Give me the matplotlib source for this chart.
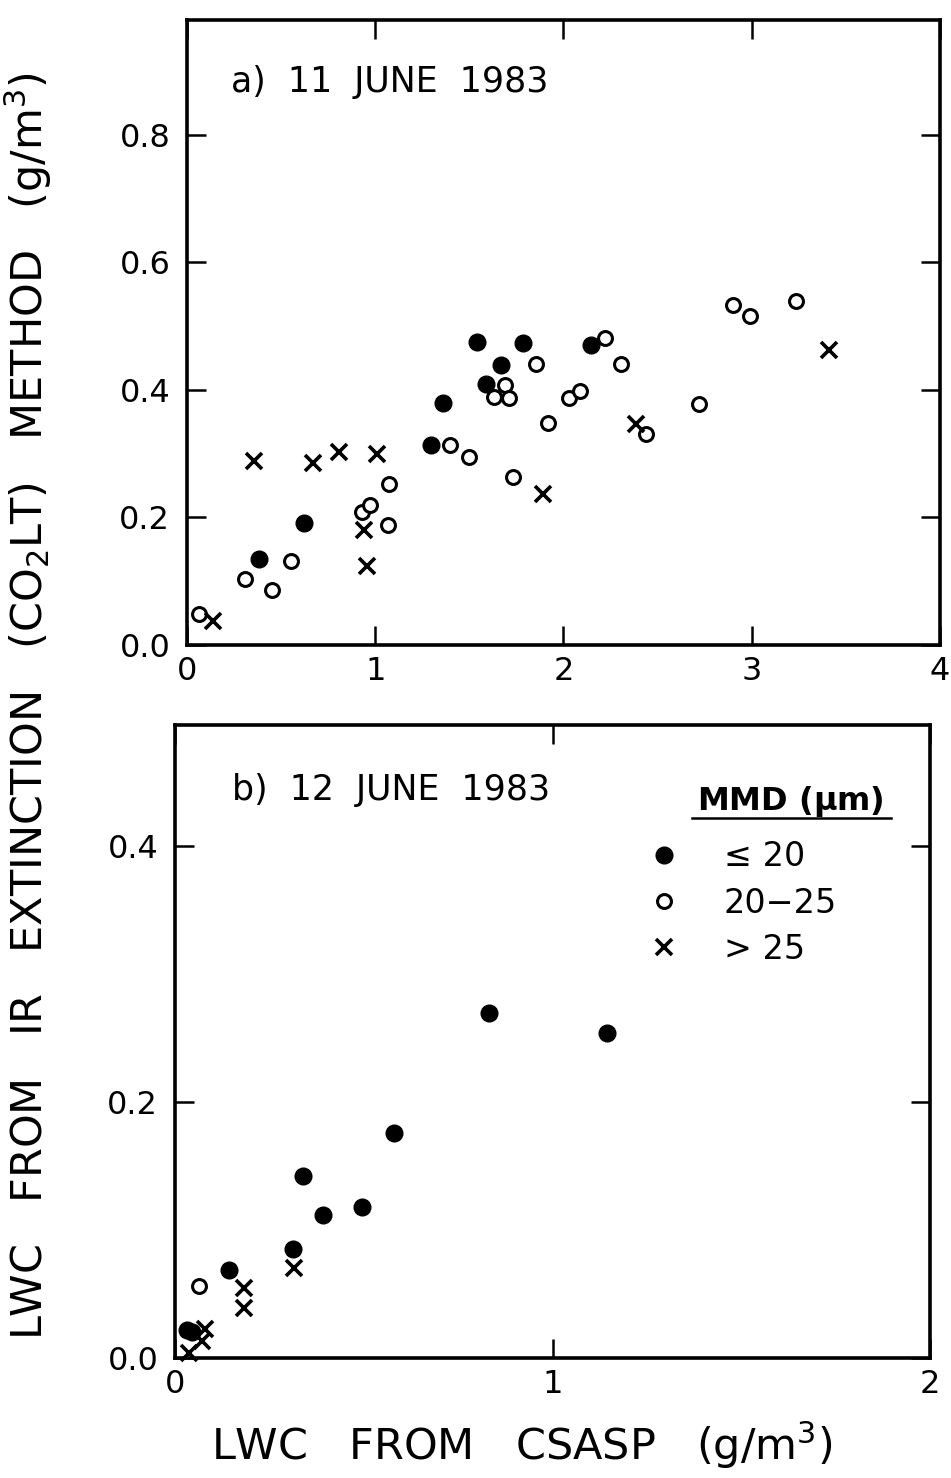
import matplotlib
matplotlib.use('Agg')
import matplotlib.pyplot as plt

plt.rcParams['font.family'] = 'DejaVu Sans'
plt.rcParams['mathtext.default'] = 'regular'

# a) 11 June 1983 : LWC from CSASP (x) vs LWC from CO2LT (y), by MMD class
a_small_x = [0.383, 0.624, 1.297, 1.36, 1.54, 1.589, 1.668, 1.786, 2.148]
a_small_y = [0.135, 0.192, 0.314, 0.379, 0.475, 0.409, 0.439, 0.473, 0.471]

a_mid_x = [0.063, 0.31, 0.451, 0.553, 0.932, 0.972, 1.072, 1.07, 1.399, 1.498,
           1.731, 1.688, 1.63, 1.71, 1.855, 1.92, 2.028, 2.09, 2.218, 2.306,
           2.437, 2.718, 2.90, 2.99, 3.235]
a_mid_y = [0.049, 0.104, 0.087, 0.132, 0.208, 0.219, 0.253, 0.188, 0.313, 0.294,
           0.263, 0.408, 0.389, 0.388, 0.44, 0.348, 0.387, 0.398, 0.482, 0.44,
           0.331, 0.378, 0.533, 0.516, 0.539]

a_big_x = [0.139, 0.357, 0.669, 0.806, 1.012, 0.939, 0.958, 1.893, 2.383, 3.41]
a_big_y = [0.038, 0.288, 0.286, 0.302, 0.299, 0.18, 0.124, 0.236, 0.346, 0.462]

# b) 12 June 1983
b_small_x = [0.031, 0.044, 0.144, 0.313, 0.34, 0.393, 0.496, 0.58, 0.831, 1.143]
b_small_y = [0.022, 0.020, 0.069, 0.085, 0.142, 0.112, 0.118, 0.176, 0.27, 0.254]

b_mid_x = [0.063]
b_mid_y = [0.056]

b_big_x = [0.036, 0.071, 0.08, 0.182, 0.182, 0.315]
b_big_y = [0.004, 0.013, 0.0225, 0.039, 0.055, 0.07]

mmd_labels = ['\u2264 20', '20\u221225', '> 25']

fig = plt.figure(figsize=(9.51, 14.78), dpi=100)
ax1 = fig.add_axes([0.1966, 0.5636, 0.7918, 0.4229])
ax2 = fig.add_axes([0.184, 0.0812, 0.794, 0.4283])


def draw(ax, sx, sy, mx, my, bx, by):
    h1, = ax.plot(sx, sy, 'o', color='black', ms=12, clip_on=False, zorder=3)
    h2, = ax.plot(mx, my, 'o', mfc='white', mec='black', ms=10, mew=2.2,
                  clip_on=False, zorder=4)
    h3, = ax.plot(bx, by, 'x', color='black', ms=12, mew=2.6,
                  clip_on=False, zorder=5)
    for s in ax.spines.values():
        s.set_linewidth(2.6)
    ax.tick_params(direction='in', length=14, width=1.8, top=True, right=True,
                   labelsize=23, pad=12)
    ax.tick_params(axis='x', pad=8)
    return h1, h2, h3


draw(ax1, a_small_x, a_small_y, a_mid_x, a_mid_y, a_big_x, a_big_y)
ax1.set_xlim(0, 4)
ax1.set_ylim(0, 0.98)
ax1.set_xticks([0, 1, 2, 3, 4])
ax1.set_yticks([0, 0.2, 0.4, 0.6, 0.8])
ax1.set_yticklabels(['0.0', '0.2', '0.4', '0.6', '0.8'])
ax1.text(0.058, 0.885, 'a)  11  JUNE  1983', transform=ax1.transAxes, fontsize=25)

hs = draw(ax2, b_small_x, b_small_y, b_mid_x, b_mid_y, b_big_x, b_big_y)
ax2.set_xlim(0, 2)
ax2.set_ylim(0, 0.495)
ax2.set_xticks([0, 1, 2])
ax2.set_yticks([0, 0.2, 0.4])
ax2.set_yticklabels(['0.0', '0.2', '0.4'])
ax2.text(0.075, 0.882, 'b)  12  JUNE  1983', transform=ax2.transAxes, fontsize=25)

# legend: title drawn separately so it can be underlined
ax2.text(0.815, 0.866, 'MMD ($\\mu$m)', transform=ax2.transAxes, fontsize=23,
         fontweight='bold', ha='center', va='baseline')
ax2.plot([0.685, 0.948], [0.853, 0.853], color='black', lw=1.8,
         transform=ax2.transAxes, clip_on=False)
ax2.legend(hs, mmd_labels, frameon=False, fontsize=24,
           loc='upper left', bbox_to_anchor=(0.625, 0.818),
           handlelength=1.0, handletextpad=1.3, labelspacing=0.4,
           borderpad=0, borderaxespad=0)

fig.text(0.03, 0.522,
         'LWC   FROM   IR   EXTINCTION   (CO$_2$LT)   METHOD   (g/m$^3$)',
         rotation=90, ha='center', va='center', fontsize=31)
fig.text(0.549, 0.022, 'LWC   FROM   CSASP   (g/m$^3$)', ha='center', va='center',
         fontsize=31)

fig.savefig('out.png', dpi=100)
